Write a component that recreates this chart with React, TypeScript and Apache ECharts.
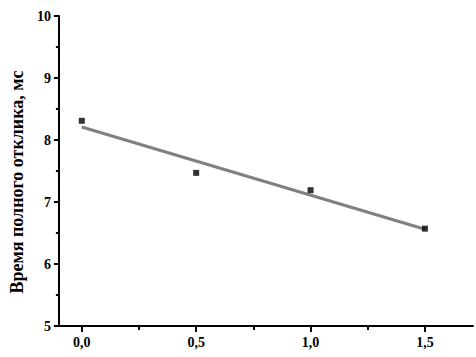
import React, { useEffect, useRef } from "react";
import * as echarts from "echarts";

const xValues = [0, 0.5, 1.0, 1.5];
const yValues = [8.31, 7.47, 7.19, 6.57];
const fitX = [0, 1.5];
const fitY = [8.21, 6.56];
const xMajorTicks = [0, 0.5, 1.0, 1.5];
const xMinorTicks = [0.25, 0.75, 1.25];
const yAxisName = "Время полного отклика, мс";

export default function App() {
  const ref = useRef<HTMLDivElement>(null);
  useEffect(() => {
    if (!ref.current) return;
    const chart = echarts.init(ref.current, null, { renderer: "svg" });
    const font = "'Liberation Serif', 'Times New Roman', serif";
    chart.setOption({
      animation: false,
      backgroundColor: "#ffffff",
      grid: { left: 55, right: 3, top: 16, bottom: 31, containLabel: false },
      xAxis: [
        {
          type: "value",
          min: -0.1,
          max: 1.71,
          splitLine: { show: false },
          axisLine: { show: true, onZero: false, lineStyle: { color: "#000", width: 2 } },
          axisTick: { show: true, customValues: xMajorTicks, length: 6, lineStyle: { color: "#000", width: 2 } },
          axisLabel: {
            customValues: xMajorTicks,
            formatter: (v: number) => v.toFixed(1).replace(".", ","),
            color: "#000",
            fontFamily: font,
            fontWeight: "bold",
            fontSize: 14,
            margin: 9,
          },
        },
        {
          type: "value",
          min: -0.1,
          max: 1.71,
          position: "bottom",
          splitLine: { show: false },
          axisLine: { show: false, onZero: false },
          axisTick: { show: true, customValues: xMinorTicks, length: 4, lineStyle: { color: "#000", width: 2 } },
          axisLabel: { show: false },
        },
      ],
      yAxis: {
        type: "value",
        min: 5,
        max: 10,
        interval: 1,
        name: yAxisName,
        nameLocation: "middle",
        nameGap: 32,
        nameTextStyle: { color: "#000", fontFamily: font, fontWeight: "bold", fontSize: 18, padding: [0, 22, 0, 0] },
        splitLine: { show: false },
        axisLine: { show: true, onZero: false, lineStyle: { color: "#000", width: 2 } },
        axisTick: { show: true, length: 5, lineStyle: { color: "#000", width: 2 } },
        minorTick: { show: true, splitNumber: 2, length: 3, lineStyle: { color: "#000", width: 2 } },
        axisLabel: {
          color: "#000",
          fontFamily: font,
          fontWeight: "bold",
          fontSize: 14,
          margin: 8,
        },
      },
      series: [
        {
          type: "line",
          xAxisIndex: 0,
          data: fitX.map((x, i) => [x, fitY[i]]),
          showSymbol: false,
          symbol: "none",
          lineStyle: { color: "#808080", width: 3 },
          z: 2,
        },
        {
          type: "scatter",
          xAxisIndex: 0,
          data: xValues.map((x, i) => [x, yValues[i]]),
          symbol: "rect",
          symbolSize: 6,
          itemStyle: { color: "#000" },
          z: 3,
        },
      ],
    });
    return () => chart.dispose();
  }, []);
  return <div ref={ref} style={{ width: 476, height: 357, position: "absolute", left: 0, top: 0 }} />;
}
